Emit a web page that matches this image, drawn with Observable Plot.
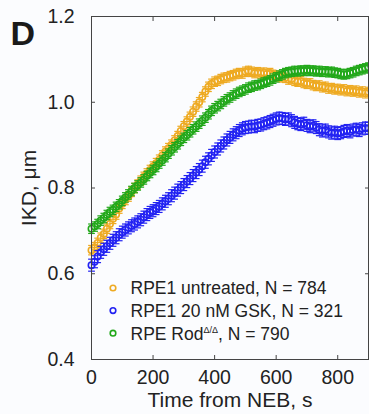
<!DOCTYPE html>
<html><head><meta charset="utf-8">
<script src="https://cdn.jsdelivr.net/npm/d3@7"></script>
<script src="https://cdn.jsdelivr.net/npm/@observablehq/plot@0.6"></script>
<style>
html,body{margin:0;padding:0;background:#fbfcfe;}
#chart{width:369px;height:414px;}
svg{display:block;}
</style></head><body><div id="chart"></div>
<script>
// time grid (s)
const timeS = d3.range(0, 901, 10);
// IKD values (µm)
const untreated = [0.655,0.662,0.672,0.684,0.693,0.705,0.716,0.728,0.738,0.752,
0.763,0.772,0.780,0.791,0.800,0.808,0.817,0.826,0.834,0.842,
0.850,0.858,0.866,0.876,0.885,0.893,0.901,0.911,0.921,0.933,
0.944,0.955,0.966,0.978,0.990,1.000,1.012,1.025,1.036,1.043,
1.048,1.050,1.054,1.057,1.058,1.061,1.063,1.066,1.068,1.067,
1.071,1.073,1.071,1.068,1.070,1.067,1.069,1.066,1.068,1.064,
1.062,1.060,1.058,1.057,1.053,1.054,1.050,1.048,1.049,1.045,
1.043,1.044,1.040,1.038,1.039,1.035,1.036,1.032,1.033,1.030,
1.031,1.028,1.030,1.026,1.028,1.025,1.027,1.023,1.025,1.021,1.024];
const gsk = [0.620,0.628,0.640,0.650,0.657,0.664,0.671,0.678,0.684,0.691,
0.697,0.702,0.707,0.712,0.716,0.721,0.726,0.732,0.738,0.743,
0.747,0.752,0.757,0.763,0.769,0.775,0.782,0.788,0.795,0.801,
0.808,0.815,0.822,0.829,0.836,0.843,0.851,0.860,0.868,0.876,
0.884,0.891,0.898,0.905,0.912,0.918,0.924,0.929,0.934,0.938,
0.941,0.942,0.944,0.943,0.946,0.947,0.950,0.952,0.955,0.958,
0.961,0.963,0.962,0.960,0.961,0.957,0.953,0.950,0.948,0.951,
0.946,0.943,0.945,0.941,0.936,0.933,0.935,0.931,0.928,0.930,
0.927,0.929,0.932,0.934,0.931,0.935,0.937,0.934,0.938,0.940,0.939];
const rodDelta = [0.705,0.710,0.716,0.724,0.730,0.737,0.744,0.749,0.756,0.762,
0.770,0.778,0.785,0.793,0.800,0.806,0.813,0.820,0.828,0.835,
0.842,0.849,0.857,0.864,0.872,0.880,0.888,0.895,0.902,0.910,
0.917,0.923,0.930,0.937,0.943,0.950,0.957,0.964,0.972,0.980,
0.986,0.991,0.996,1.002,1.007,1.011,1.016,1.020,1.024,1.027,
1.030,1.034,1.036,1.039,1.040,1.043,1.046,1.048,1.051,1.055,
1.058,1.062,1.065,1.068,1.070,1.071,1.073,1.072,1.074,1.073,
1.075,1.073,1.074,1.072,1.073,1.071,1.072,1.070,1.071,1.069,
1.068,1.066,1.065,1.066,1.068,1.070,1.073,1.075,1.077,1.079,1.081];
const semValues = [0.011, 0.014, 0.011];
const seriesNames = ["RPE1 untreated", "RPE1 20 nM GSK", "RPE Rod"];
const seriesN = [784, 321, 790];
const seriesColors = ["#eeaa22", "#2222f2", "#22a81a"];
const xTicks = [0, 200, 400, 600, 800];
const yTicks = [0.4, 0.6, 0.8, 1.0, 1.2];

const allVals = [untreated, gsk, rodDelta];
const marks = [];
allVals.forEach((vals, i) => {
  const data = vals.map((v, j) => ({t: timeS[j], v, e: semValues[i]}));
  const c = seriesColors[i];
  marks.push(
    Plot.ruleX(data, {x: "t", y1: d => d.v - d.e, y2: d => d.v + d.e, stroke: c, strokeWidth: 1.2}),
    Plot.link(data, {x1: d => d.t - 11, x2: d => d.t + 11, y1: d => d.v - d.e, y2: d => d.v - d.e, stroke: c, strokeWidth: 1.2}),
    Plot.link(data, {x1: d => d.t - 11, x2: d => d.t + 11, y1: d => d.v + d.e, y2: d => d.v + d.e, stroke: c, strokeWidth: 1.2}),
    Plot.dot(data, {x: "t", y: "v", r: 3.2, stroke: c, strokeWidth: 1.6, fill: "none"})
  );
});

const axisColor = "#444";
const plot = Plot.plot({
  width: 369, height: 414,
  marginLeft: 91, marginRight: 1, marginTop: 16, marginBottom: 55,
  style: {background: "transparent", fontFamily: "'Liberation Sans', Arial, sans-serif", color: "#222", overflow: "visible"},
  x: {domain: [0, 900]},
  y: {domain: [0.4, 1.2]},
  marks: [
    ...marks,
    Plot.frame({stroke: axisColor, strokeWidth: 1}),
    Plot.axisX({anchor: "bottom", ticks: xTicks, tickSize: -4, tickFormat: () => "", label: null, stroke: axisColor}),
    Plot.axisX({anchor: "top", ticks: xTicks, tickSize: -4, tickFormat: () => "", label: null, stroke: axisColor}),
    Plot.axisY({anchor: "left", ticks: yTicks, tickSize: -4, tickFormat: () => "", label: null, stroke: axisColor}),
    Plot.axisY({anchor: "right", ticks: yTicks, tickSize: -4, tickFormat: () => "", label: null, stroke: axisColor}),
    Plot.axisX({anchor: "bottom", ticks: xTicks, tickSize: 0, tickPadding: 11, fontSize: 19.5, label: null}),
    Plot.axisY({anchor: "left", ticks: yTicks, tickSize: 0, tickPadding: 17, fontSize: 19.5, tickFormat: d3.format(".1f"), label: null}),
    Plot.axisX({anchor: "bottom", ticks: [], tickSize: 0, fontSize: 21, label: "Time from NEB, s", labelAnchor: "center", labelOffset: 47, labelArrow: "none"}),
    Plot.axisY({anchor: "left", ticks: [], tickSize: 0, fontSize: 21, label: "IKD, μm", labelAnchor: "center", labelOffset: 70, labelArrow: "none"})
  ]
});
document.getElementById("chart").appendChild(plot);

// panel letter and legend
const svg = d3.select(plot);
svg.append("text").attr("x", 10.5).attr("y", 45).attr("text-anchor", "start")
  .attr("font-family", "'Liberation Sans', Arial, sans-serif").attr("font-weight", "bold")
  .attr("font-size", 34).attr("fill", "#1a1a1a").text("D");
const leg = svg.append("g").attr("text-anchor", "start")
  .attr("font-family", "'Liberation Sans', Arial, sans-serif").attr("font-size", 17.5).attr("fill", "#222");
seriesNames.forEach((name, i) => {
  const y = 288 + i * 22.6;
  leg.append("circle").attr("cx", 113).attr("cy", y).attr("r", 2.8)
    .attr("fill", "none").attr("stroke", seriesColors[i]).attr("stroke-width", 1.6);
  const t = leg.append("text").attr("x", 130.5).attr("y", y + 6.3);
  t.append("tspan").text(name);
  if (i === 2) {
    t.append("tspan").attr("font-size", 9).attr("dy", -7).text("Δ/Δ");
    t.append("tspan").attr("dy", 7).text(", N = " + seriesN[i]);
  } else {
    t.append("tspan").text(", N = " + seriesN[i]);
  }
});
</script></body></html>
